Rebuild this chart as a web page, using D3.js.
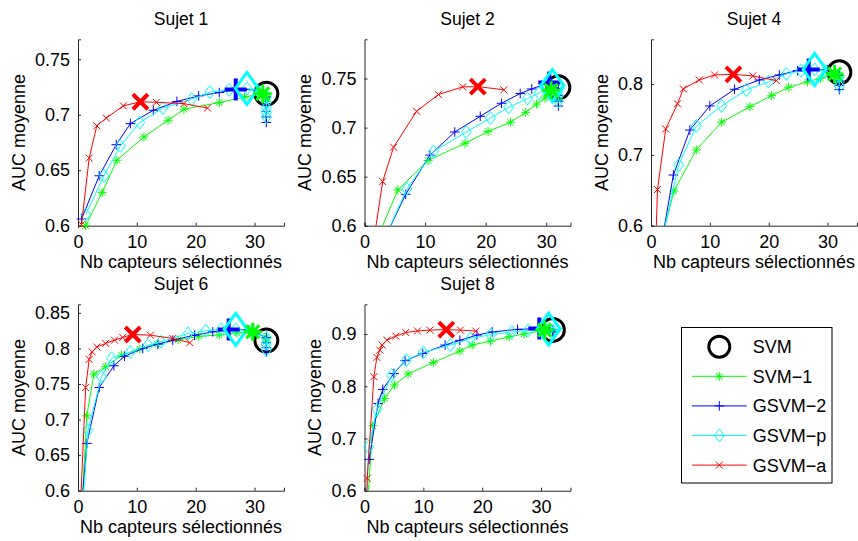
<!DOCTYPE html>
<html><head><meta charset="utf-8">
<script src="https://cdn.jsdelivr.net/npm/d3@7"></script>
<style>body{margin:0;background:#fff}text{font-family:"Liberation Sans",Arial,Helvetica,sans-serif;fill:#000}</style>
</head><body><svg id="c" width="858" height="541"></svg>
<script>
// ---------------- DATA ----------------
const subjects = ["Sujet 1", "Sujet 2", "Sujet 4", "Sujet 6", "Sujet 8"];
const seriesNames = ["SVM", "SVM\u22121", "GSVM\u22122", "GSVM\u2212p", "GSVM\u2212a"];
const xTicks = [0, 10, 20, 30];
const yTicks = [
  [0.6, 0.65, 0.7, 0.75],
  [0.6, 0.65, 0.7, 0.75],
  [0.6, 0.7, 0.8],
  [0.6, 0.65, 0.7, 0.75, 0.8, 0.85],
  [0.6, 0.7, 0.8, 0.9]
];
const yMax = [0.768, 0.79, 0.863, 0.862, 0.957];
const xMax = [35, 34, 35, 35, 35];
const svmRef = [[32, 0.719], [32, 0.741], [32, 0.8165], [32, 0.811], [32, 0.908]];

// Sujet 1
const s1_svm1 = [[1.3,0.600],[4.1,0.630],[6.6,0.659],[11.2,0.680],[15.3,0.695],[18.0,0.705],[24.0,0.711],[28.3,0.716],[31.4,0.719],[32,0.716],[32,0.712]];
const s1_gsvm2 = [[0.6,0.606],[3.6,0.645],[6.5,0.673],[8.9,0.692],[12.8,0.704],[16.8,0.712],[20.5,0.717],[24.0,0.720],[26.8,0.7228],[30.2,0.7225],[32,0.716],[32,0.709],[32,0.703],[32,0.698],[32,0.693]];
const s1_gsvmp = [[1.3,0.610],[4.4,0.645],[7.2,0.672],[10.5,0.693],[14.4,0.706],[19.3,0.714],[22.4,0.7205],[25.7,0.7225],[28.7,0.7237],[30.5,0.722],[32,0.716],[32,0.711],[32,0.706],[32,0.702],[32,0.698]];
const s1_gsvma = [[0.6,0.601],[1.9,0.661],[3.2,0.690],[4.8,0.697],[7.7,0.708],[10.6,0.7117],[13.3,0.7112],[18.0,0.710],[22.0,0.706]];
const s1_best = [[31.4,0.719],[26.8,0.7228],[28.7,0.7237],[10.6,0.7117]];

// Sujet 2
const s2_svm1 = [[1.0,0.571],[5.5,0.6365],[10.5,0.6665],[16.6,0.684],[20.4,0.696],[24.1,0.7055],[26.6,0.7155],[28.4,0.724],[29.8,0.730],[30.8,0.738],[32,0.733],[32,0.728]];
const s2_gsvm2 = [[1.0,0.557],[6.8,0.632],[10.8,0.672],[14.9,0.6955],[19.1,0.7115],[22.6,0.7248],[25.7,0.7347],[27.6,0.7394],[30.5,0.746],[32,0.740],[32,0.733],[32,0.727],[32,0.722]];
const s2_gsvmp = [[1.0,0.555],[7.0,0.6375],[11.4,0.6757],[16.8,0.6955],[20.8,0.7098],[23.8,0.7207],[26.9,0.7296],[28.8,0.735],[31.0,0.7428],[32,0.738],[32,0.732],[32,0.727]];
const s2_gsvma = [[1.0,0.563],[3.0,0.645],[4.8,0.680],[8.6,0.7166],[12.2,0.7337],[16.2,0.7415],[18.7,0.7418],[23.0,0.7385]];
const s2_best = [[30.8,0.738],[30.5,0.746],[31.0,0.7428],[18.7,0.7418]];

// Sujet 4
const s4_svm1 = [[1.0,0.554],[3.9,0.649],[7.7,0.707],[12.0,0.746],[16.8,0.768],[20.5,0.7835],[23.4,0.7953],[26.6,0.803],[28.8,0.808],[31.2,0.814],[32,0.810],[32,0.805]];
const s4_gsvm2 = [[1.0,0.538],[3.8,0.6715],[6.6,0.735],[10.0,0.769],[14.2,0.7925],[18.4,0.8056],[21.8,0.8127],[24.9,0.8188],[26.8,0.8205],[30.0,0.8198],[32,0.812],[32,0.805],[32,0.798],[32,0.792]];
const s4_gsvmp = [[1.0,0.548],[4.7,0.6856],[7.7,0.7407],[12.0,0.769],[16.2,0.7915],[20.0,0.8033],[23.0,0.8141],[25.5,0.8188],[27.8,0.8205],[29.7,0.818],[32,0.810],[32,0.803],[32,0.797]];
const s4_gsvma = [[0.8,0.57],[1.1,0.651],[2.5,0.7365],[4.5,0.772],[5.5,0.793],[8.2,0.8056],[10.8,0.8127],[14.0,0.8135],[17.3,0.8113],[21.3,0.8047]];
const s4_best = [[31.2,0.814],[26.8,0.8205],[27.8,0.8205],[14.0,0.8135]];

// Sujet 6
const s6_svm1 = [[0.5,0.555],[1.5,0.7053],[2.7,0.7639],[4.7,0.7742],[7.4,0.7905],[10.5,0.799],[13.5,0.806],[17.0,0.812],[20.5,0.817],[24.0,0.819],[27.0,0.822],[29.7,0.8233],[32,0.816],[32,0.810]];
const s6_gsvm2 = [[0.5,0.564],[1.5,0.6665],[3.6,0.7451],[6.1,0.7756],[7.9,0.789],[11.0,0.7999],[13.6,0.806],[16.1,0.8116],[19.8,0.8186],[22.9,0.8233],[25.6,0.8266],[29.0,0.826],[32,0.815],[32,0.808],[32,0.801],[32,0.795]];
const s6_gsvmp = [[0.6,0.552],[1.7,0.685],[4.0,0.760],[5.7,0.786],[8.9,0.795],[11.9,0.8046],[14.1,0.8093],[18.7,0.821],[21.7,0.825],[24.3,0.8265],[26.8,0.8268],[29.5,0.824],[32,0.815],[32,0.806],[32,0.798]];
const s6_gsvma = [[0.3,0.555],[1.3,0.745],[1.9,0.7845],[2.4,0.795],[3.2,0.802],[4.7,0.807],[6.2,0.8116],[7.6,0.8155],[9.3,0.8196],[12.3,0.8186],[16.1,0.814],[19.0,0.808]];
const s6_best = [[29.7,0.8233],[25.6,0.8266],[26.8,0.8268],[9.3,0.8196]];

// Sujet 8
const s8_svm1 = [[0.5,0.57],[1.4,0.7244],[3.4,0.7768],[5.1,0.8023],[7.4,0.8234],[11.7,0.8457],[16.2,0.8674],[18.3,0.879],[21.4,0.8865],[24.6,0.8948],[27.1,0.900],[30.6,0.9076],[32,0.905]];
const s8_gsvm2 = [[0.8,0.66],[2.3,0.767],[3.1,0.794],[5.0,0.8246],[6.9,0.849],[9.9,0.863],[13.7,0.879],[16.2,0.888],[19.1,0.898],[21.7,0.904],[26.0,0.909],[29.7,0.9105],[32,0.908],[32,0.904]];
const s8_gsvmp = [[0.3,0.56],[0.7,0.684],[2.1,0.7557],[4.6,0.8214],[7.1,0.850],[10.0,0.865],[14.6,0.879],[18.0,0.8916],[21.5,0.899],[25.0,0.904],[27.8,0.907],[31.3,0.9095],[32,0.906],[32,0.902]];
const s8_gsvma = [[0.35,0.57],[0.46,0.6236],[1.6,0.8183],[2.1,0.8553],[2.6,0.8693],[3.0,0.879],[3.8,0.8884],[5.3,0.896],[7.0,0.903],[9.0,0.906],[11.1,0.9076],[13.9,0.9085],[16.3,0.9076],[18.9,0.9057]];
const s8_best = [[30.6,0.9076],[29.7,0.9105],[31.3,0.9095],[13.9,0.9085]];

const seriesBySubject = [
  [s1_svm1, s1_gsvm2, s1_gsvmp, s1_gsvma],
  [s2_svm1, s2_gsvm2, s2_gsvmp, s2_gsvma],
  [s4_svm1, s4_gsvm2, s4_gsvmp, s4_gsvma],
  [s6_svm1, s6_gsvm2, s6_gsvmp, s6_gsvma],
  [s8_svm1, s8_gsvm2, s8_gsvmp, s8_gsvma]
];
const bestBySubject = [s1_best, s2_best, s4_best, s6_best, s8_best];

// ---------------- STYLE / LAYOUT ----------------
const colors = ["#00ff00", "#0000ff", "#00ffff", "#ff0000"];
const FONT = 18;
const panelW = 206, panelH = 186.4;
const colLeft = [78, 364.5, 651];
const rowTop = [39.3, 304.3];
const panelPos = [[0,0],[1,0],[2,0],[0,1],[1,1]];

function star(r){const k=r*0.72;return `M${-r},0H${r}M0,${-r}V${r}M${-k},${-k}L${k},${k}M${-k},${k}L${k},${-k}`;}
function plus(r){return `M${-r},0H${r}M0,${-r}V${r}`;}
function diamond(w,h){return `M0,${-h}L${w},0L0,${h}L${-w},0Z`;}
function cross(r){return `M${-r},${-r}L${r},${r}M${-r},${r}L${r},${-r}`;}
const smallMarker = [()=>star(4.5), ()=>plus(4.8), ()=>diamond(5,6.5), ()=>cross(3.5)];
const bigMarker = [()=>star(9), ()=>plus(11), ()=>diamond(11.5,16), ()=>cross(7.5)];
const bigWidth = [3, 4, 3, 4];

const svg = d3.select("#c");
const defs = svg.append("defs");

subjects.forEach((name, i) => {
  const [c, r] = panelPos[i];
  const left = colLeft[c], top = rowTop[r];
  const x = d3.scaleLinear().domain([0, xMax[i]]).range([0, panelW]);
  const y = d3.scaleLinear().domain([0.6, yMax[i]]).range([panelH, 0]);
  const g = svg.append("g").attr("transform", `translate(${left},${top})`);
  const clipId = "clip" + i;
  defs.append("clipPath").attr("id", clipId).append("rect")
    .attr("x", 0).attr("y", 0).attr("width", panelW).attr("height", panelH);

  // axes
  const xa = g.append("g").attr("transform", `translate(0,${panelH})`)
    .call(d3.axisBottom(x).tickValues(xTicks).tickSize(-3).tickPadding(9).tickFormat(d3.format("d")));
  const ya = g.append("g")
    .call(d3.axisLeft(y).tickValues(yTicks[i]).tickSize(-3).tickPadding(8).tickFormat(d => String(+d.toFixed(2))));
  [xa, ya].forEach(a => {
    a.select(".domain").attr("stroke", "#262626").attr("stroke-width", 1);
    a.selectAll(".tick line").attr("stroke", "#262626");
    a.selectAll("text").attr("font-size", FONT).attr("fill", "#000")
      .style("font-family", '"Liberation Sans",Arial,sans-serif');
  });
  xa.selectAll("text").attr("dy", "0.75em");
  let maxW = 0;
  ya.selectAll("text").each(function(){ maxW = Math.max(maxW, this.getBBox().width); });

  // titles & labels
  g.append("text").attr("x", panelW/2).attr("y", -14.5).attr("text-anchor", "middle")
    .attr("font-size", 17.5).text(name);
  g.append("text").attr("x", panelW/2).attr("y", panelH + 42.5).attr("text-anchor", "middle")
    .attr("font-size", FONT).text("Nb capteurs s\u00e9lectionn\u00e9s");
  g.append("text").attr("transform", `translate(${-maxW - 18},${panelH/2}) rotate(-90)`)
    .attr("text-anchor", "middle").attr("font-size", FONT).text("AUC moyenne");

  // SVM reference
  g.append("circle").attr("cx", x(svmRef[i][0])).attr("cy", y(svmRef[i][1])).attr("r", 11.5)
    .attr("fill", "none").attr("stroke", "#000").attr("stroke-width", 3);

  const line = d3.line().x(d => x(d[0])).y(d => y(d[1]));
  const inside = d => d[1] >= 0.6 && d[1] <= yMax[i];
  seriesBySubject[i].forEach((data, s) => {
    const sg = g.append("g");
    sg.append("path").attr("d", line(data)).attr("fill", "none")
      .attr("stroke", colors[s]).attr("stroke-width", 1).attr("clip-path", `url(#${clipId})`);
    sg.selectAll("path.m").data(data.filter(inside)).join("path").attr("class", "m")
      .attr("transform", d => `translate(${x(d[0])},${y(d[1])})`)
      .attr("d", smallMarker[s]()).attr("fill", "none").attr("stroke", colors[s]).attr("stroke-width", 1);
  });
  [1, 2, 0, 3].forEach(s => {
    const b = bestBySubject[i][s];
    g.append("path").attr("transform", `translate(${x(b[0])},${y(b[1])})`)
      .attr("d", bigMarker[s]()).attr("fill", "none").attr("stroke", colors[s])
      .attr("stroke-width", bigWidth[s]);
  });
});

// legend
const lg = svg.append("g");
lg.append("rect").attr("x", 681.5).attr("y", 327.5).attr("width", 150.5).attr("height", 155.5)
  .attr("fill", "#fff").attr("stroke", "#000").attr("stroke-width", 1);
const rowY = d3.range(seriesNames.length).map(k => 346.7 + k * 29.6);
seriesNames.forEach((nm, k) => {
  const yy = rowY[k];
  if (k === 0) {
    lg.append("circle").attr("cx", 719.3).attr("cy", yy).attr("r", 10.5)
      .attr("fill", "none").attr("stroke", "#000").attr("stroke-width", 3);
  } else {
    const s = k - 1;
    lg.append("line").attr("x1", 692).attr("x2", 746.7).attr("y1", yy).attr("y2", yy)
      .attr("stroke", colors[s]).attr("stroke-width", 1);
    lg.append("path").attr("transform", `translate(719.3,${yy})`).attr("d", smallMarker[s]())
      .attr("fill", "none").attr("stroke", colors[s]).attr("stroke-width", 1);
  }
  lg.append("text").attr("x", 752.7).attr("y", yy).attr("dy", "0.36em")
    .attr("font-size", FONT).text(nm);
});
</script></body></html>
